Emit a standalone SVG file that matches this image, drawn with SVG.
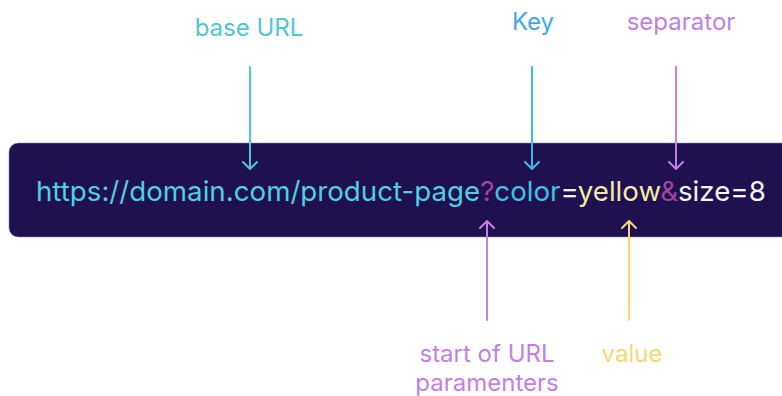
<svg xmlns="http://www.w3.org/2000/svg" width="782" height="396" viewBox="0 0 782 396">
<style>
.lbl{font-family:Inter,"Noto Sans","Liberation Sans",sans-serif;font-size:24px;text-anchor:middle}
.url{font-family:Inter,"Noto Sans","Liberation Sans",sans-serif;font-size:27.7px}
.ln{fill:none;stroke-width:2;stroke-linecap:round;stroke-linejoin:round}
</style>
<rect width="782" height="396" fill="#ffffff"/>
<g id="url-box">
<rect x="9" y="143" width="790" height="94" rx="9" fill="#1f1150" stroke="#8a8a9a" stroke-width="0.6"/>
<text class="url" x="36" y="201"><tspan fill="#4fcfe0">https://domain.com/product-page</tspan><tspan fill="#a3429f">?</tspan><tspan fill="#3fc2e2">color</tspan><tspan fill="#f2f2f2">=</tspan><tspan fill="#f3e9a6">yellow</tspan><tspan fill="#a3429f">&amp;</tspan><tspan fill="#f7f7f7">size=8</tspan></text>
</g>
<g id="label-base-url"><text class="lbl" x="249" y="36" fill="#4fc6d4">base URL</text></g>
<g id="label-key"><text class="lbl" x="533" y="30" fill="#3fa8e8">Key</text></g>
<g id="label-separator"><text class="lbl" x="681" y="30" fill="#c27fe8">separator</text></g>
<g id="label-start"><text class="lbl" x="487" y="362" fill="#c27fe8">start of URL<tspan x="487" dy="29">paramenters</tspan></text></g>
<g id="label-value"><text class="lbl" x="632" y="362" fill="#f7d872">value</text></g>
<g id="connectors">
<path class="ln" stroke="#4fc6dc" d="M250 67V169M243 162L250 169L257 162"/>
<path class="ln" stroke="#3fb8e6" d="M532 67V169M525 162L532 169L539 162"/>
<path class="ln" stroke="#c27fe8" d="M676 67V169M669 162L676 169L683 162"/>
<path class="ln" stroke="#c27fe8" d="M487 320V221M480 228L487 221L494 228"/>
<path class="ln" stroke="#f7d872" d="M629 320V221M622 228L629 221L636 228"/>
</g>
</svg>
